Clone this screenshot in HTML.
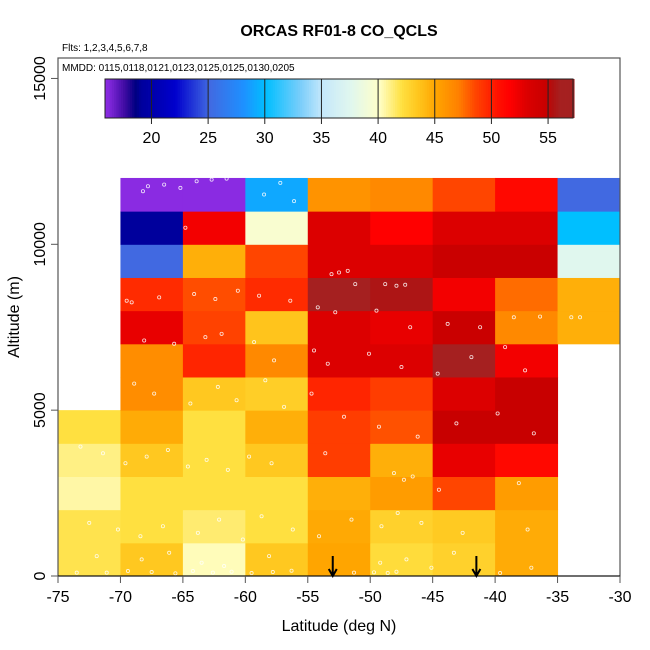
<!DOCTYPE html>
<html><head><meta charset="utf-8"><style>
html,body{margin:0;padding:0;background:#fff;}
svg{display:block;font-family:"Liberation Sans",Arial,sans-serif;}
</style></head><body>
<svg id="chart" width="650" height="650" viewBox="0 0 650 650">
<text x="339" y="36" text-anchor="middle" font-size="16" font-weight="bold">ORCAS RF01-8 CO_QCLS</text>
<text x="62" y="51" font-size="10">Flts: 1,2,3,4,5,6,7,8</text>
<g id="cells"></g>
<g id="points"></g>
<rect x="58" y="58" width="562" height="518" fill="none" stroke="#555" stroke-width="1.2"/>
<text x="62" y="71" font-size="10">MMDD: 0115,0118,0121,0123,0125,0125,0130,0205</text>
<g id="colorbar"></g>
<g id="axes"></g>
<text x="339" y="631" text-anchor="middle" font-size="16">Latitude (deg N)</text>
<text transform="translate(19,317) rotate(-90)" text-anchor="middle" font-size="16">Altitude (m)</text>
</svg>
<script>
const lonEdges=[-75,-70,-65,-60,-55,-50,-45,-40,-35,-30];
const altEdges=[0,1000,2000,3000,4000,5000,6000,7000,8000,9000,10000,11000,12000];
// rows from bottom (0-1000 m) to top (11000-12000 m), columns -75..-35
const coValues=[
[41.8,43.3,40.2,43.3,45.0,42.2,42.8,44.7],
[41.8,42.0,41.3,42.0,44.8,42.8,43.2,44.7],
[40.5,42.0,42.0,42.0,44.5,45.5,48.5,45.5],
[41.0,43.3,42.0,43.3,48.8,44.5,52.5,51.0],
[42.0,44.7,42.0,44.5,48.8,48.2,54.7,54.7],
[null,46.3,43.3,43.0,49.7,48.8,53.0,54.7],
[null,46.3,49.7,46.5,53.0,53.0,56.0,52.0],
[null,52.5,48.6,43.5,53.0,52.5,54.5,46.5,44.5],
[null,49.5,48.3,49.5,56.0,55.5,52.0,47.5,44.5],
[null,25.0,44.5,48.5,53.0,53.0,54.5,54.5,37.5],
[null,19.0,52.0,39.5,53.0,51.5,53.0,53.0,30.0],
[null,16.0,16.0,29.0,46.0,46.5,48.5,51.0,25.0]];
const cbTicks=[20,25,30,35,40,45,50,55];
const xTicks=[-75,-70,-65,-60,-55,-50,-45,-40,-35,-30];
const yTicks=[0,5000,10000,15000];
const arrowLons=[-53,-41.5];
// sample flight observations [lon, alt]
const ptLon=[-67.8,-66.5,-65.2,-63.9,-62.7,-61.5,-68.2,-64.8,-58.5,-57.2,-56.1,-53.1,-52.5,-51.8,-51.2,-48.8,-47.9,-47.2,-69.5,-69.1,-66.9,-64.1,-62.4,-60.6,-58.9,-56.4,-54.2,-52.8,-49.5,-46.8,-43.8,-41.2,-38.5,-36.4,-33.9,-33.2,-68.1,-65.7,-63.2,-61.9,-59.3,-57.7,-54.5,-53.4,-50.1,-47.5,-44.6,-41.9,-39.2,-37.6,-71.8,-70.6,-68.9,-67.3,-64.4,-62.2,-60.7,-58.4,-56.9,-54.7,-52.1,-49.3,-46.2,-43.1,-39.8,-36.9,-73.2,-71.4,-69.6,-67.9,-66.2,-64.6,-63.1,-61.4,-59.7,-57.9,-53.6,-48.1,-47.3,-46.6,-44.5,-38.1,-72.5,-70.2,-68.4,-66.6,-63.8,-62.1,-60.2,-58.7,-56.2,-54.1,-51.5,-49.1,-47.8,-45.9,-42.6,-37.4];
const ptAlt=[11750,11800,11700,11900,11950,11980,11600,10500,11500,11850,11300,9100,9150,9200,8800,8800,8750,8780,8300,8250,8400,8500,8350,8600,8450,8300,8100,7950,8000,7500,7600,7500,7800,7820,7800,7800,7100,7000,7200,7300,7050,6500,6800,6400,6700,6300,6100,6600,6900,6200,5400,5600,5800,5500,5200,5700,5300,5900,5100,5500,4800,4500,4200,4600,4900,4300,3900,3700,3400,3600,3800,3300,3500,3200,3600,3400,3700,3100,2900,3000,2600,2800,1600,1400,1200,1500,1300,1700,1100,1800,1400,1200,1700,1500,1900,1600,1300,1400];
const ptLon2=[-73.5,-71.1,-69.4,-67.5,-65.6,-64.2,-62.6,-61.1,-59.5,-57.8,-56.3,-51.3,-49.7,-48.6,-47.9,-45.1,-43.3,-39.6,-37.1,-71.9,-68.3,-66.1,-63.5,-61.7,-58.1,-49.2,-47.1];
const ptAlt2=[100,100,150,120,80,150,100,130,90,120,160,100,110,90,130,250,700,90,250,600,500,700,400,300,600,400,500];

const X=v=>58+(v+75)*562/45;
const Y=v=>576-v*0.03317;
const NS='http://www.w3.org/2000/svg';
const stops=[[16,[138,43,226]],[17.6,[60,10,160]],[18.5,[0,0,130]],[19,[0,0,156]],[22,[0,0,205]],[25,[65,105,225]],[28,[30,144,255]],[30,[0,191,255]],[33,[120,205,250]],[35,[198,232,251]],[37.5,[224,247,238]],[40,[255,255,200]],[42,[255,224,64]],[43.3,[255,200,32]],[45,[255,165,0]],[47,[255,128,0]],[48.5,[255,69,0]],[50.5,[255,16,0]],[51.5,[255,0,0]],[53,[220,0,0]],[54.7,[200,0,0]],[55.3,[176,16,16]],[56,[165,32,32]],[57.2,[165,32,32]]];
function col(v){
  for(let i=1;i<stops.length;i++){
    if(v<=stops[i][0]){const a=stops[i-1],b=stops[i];const t=Math.max(0,(v-a[0])/(b[0]-a[0]));
      return 'rgb('+a[1].map((c,k)=>Math.round(c+(b[1][k]-c)*t)).join(',')+')';}
  }
  return 'rgb(165,32,32)';
}
function mk(tag,attrs,parent){const e=document.createElementNS(NS,tag);for(const k in attrs)e.setAttribute(k,attrs[k]);parent.appendChild(e);return e;}
const cells=document.getElementById('cells');
coValues.forEach((row,r)=>row.forEach((v,c)=>{
  if(v==null)return;
  const x0=X(lonEdges[c]),x1=X(lonEdges[c+1]),y0=Y(altEdges[r+1]),y1=Y(altEdges[r]);
  const e=mk('rect',{x:x0,y:y0,width:x1-x0+0.5,height:y1-y0+0.5,fill:col(v)},cells);
  
  
}));
const pts=document.getElementById('points');
function addPts(lons,alts){lons.forEach((l,i)=>{
  const e=mk('circle',{cx:X(l),cy:Y(alts[i]),r:1.6,fill:'none',stroke:'#fff','stroke-width':0.8,opacity:0.85},pts);
  
  
});}
addPts(ptLon,ptAlt);addPts(ptLon2,ptAlt2);
// colorbar
const cbL=105,cbR=573,cbMin=15.9,cbMax=57.2;
const CX=v=>cbL+(v-cbMin)*(cbR-cbL)/(cbMax-cbMin);
const cb=document.getElementById('colorbar');
for(let v=cbMin;v<cbMax;v+=0.2){
  const e=mk('rect',{x:CX(v),y:79,width:(cbR-cbL)/(cbMax-cbMin)*0.2+0.4,height:39,fill:col(v)},cb);
  
  
}
const cbf=mk('rect',{x:cbL,y:79,width:cbR-cbL,height:39,fill:'none',stroke:'#222','stroke-width':1},cb);


cbTicks.forEach(t=>{
  const l=mk('line',{x1:CX(t),x2:CX(t),y1:79,y2:124,stroke:'#222','stroke-width':1},cb);
  
  
  const tx=mk('text',{x:CX(t),y:143,'text-anchor':'middle','font-size':16},cb);tx.textContent=t;
  
  
});
// axes
const ax=document.getElementById('axes');
mk('line',{x1:58,x2:620,y1:576,y2:576,stroke:'#000'},ax);
xTicks.forEach(t=>{
  const l=mk('line',{x1:X(t),x2:X(t),y1:576,y2:583,stroke:'#555'},ax);
  
  
  const tx=mk('text',{x:X(t),y:602,'text-anchor':'middle','font-size':16},ax);tx.textContent=t;
  
  
});
yTicks.forEach(t=>{
  const l=mk('line',{x1:51,x2:58,y1:Y(t),y2:Y(t),stroke:'#555'},ax);
  
  
  const tx=mk('text',{'text-anchor':'middle','font-size':16,transform:'translate(45,'+Y(t)+') rotate(-90)'},ax);tx.textContent=t;
  
  
});
arrowLons.forEach(l=>{
  const x=X(l);
  const p=mk('path',{d:'M'+x+' 556 L'+x+' 575 M'+(x-4)+' 569 L'+x+' 576 L'+(x+4)+' 569',stroke:'#000','stroke-width':2,fill:'none'},ax);
  
  
});
</script>
</body></html>
